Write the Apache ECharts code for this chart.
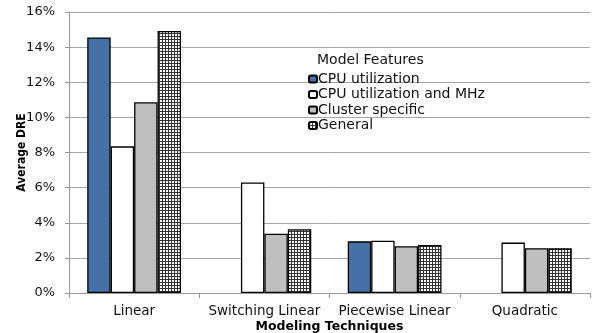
<!DOCTYPE html>
<html>
<head>
<meta charset="utf-8">
<script src="https://cdn.jsdelivr.net/npm/echarts@6/dist/echarts.min.js"></script>
<style>
  html, body { margin: 0; padding: 0; background: #fff; }
  #chart { width: 597px; height: 333px; }
</style>
</head>
<body>
<div id="chart"></div>
<script>
const categories = ["Linear", "Switching Linear", "Piecewise Linear", "Quadratic"];
const cpuUtil = [14.55, null, 2.94, null];
const cpuUtilMhz = [8.35, 6.29, 2.98, 2.87];
const clusterSpecific = [10.86, 3.38, 2.66, 2.55];
const general = [14.92, 3.63, 2.73, 2.55];
const yTicks = [0, 2, 4, 6, 8, 10, 12, 14, 16];

// crosshatch pattern for "General"
function hatch() {
  const c = document.createElement("canvas");
  c.width = 3; c.height = 3;
  const ctx = c.getContext("2d");
  ctx.fillStyle = "#ffffff";
  ctx.fillRect(0, 0, 3, 3);
  ctx.fillStyle = "#333333";
  ctx.fillRect(0, 0, 3, 1);
  ctx.fillRect(0, 0, 1, 3);
  return { image: c, repeat: "repeat" };
}

const chart = echarts.init(document.getElementById("chart"));
const border = { borderColor: "#000", borderWidth: 1.3 };

const mk = (name, data, color) => ({
  name,
  type: "bar",
  data,
  barGap: "0%",
  barCategoryGap: "28%",
  itemStyle: Object.assign({ color }, border),
  emphasis: { disabled: true },
});

chart.setOption({
  animation: false,
  textStyle: { fontFamily: "DejaVu Sans" },
  grid: { left: 69, right: 7, top: 12, bottom: 40, containLabel: false, outerBoundsMode: "none" },
  title: {
    text: "Model Features",
    left: 312, top: 48,
    textStyle: { fontSize: 14, fontWeight: "normal", color: "#111", fontFamily: "DejaVu Sans" },
  },
  legend: {
    orient: "vertical",
    left: 303, top: 67,
    itemWidth: 8, itemHeight: 7, itemGap: 1.5,
    textStyle: { fontSize: 14, color: "#111", fontFamily: "DejaVu Sans", padding: [0, 0, 0, -4] },
    data: ["CPU utilization", "CPU utilization and MHz", "Cluster specific", "General"],
  },
  xAxis: {
    type: "category",
    data: categories,
    name: "Modeling Techniques",
    nameLocation: "middle",
    nameGap: 27,
    nameMoveOverlap: false,
    nameTextStyle: { fontSize: 12.5, fontWeight: "bold", color: "#000", fontFamily: "DejaVu Sans" },
    axisLine: { lineStyle: { color: "#999" } },
    axisTick: { show: true, length: 5, lineStyle: { color: "#999" } },
    axisLabel: { color: "#111", fontSize: 13.5, margin: 11, interval: 0, hideOverlap: false },
  },
  yAxis: {
    type: "value",
    min: yTicks[0], max: yTicks[yTicks.length - 1], interval: 2,
    name: "Average DRE",
    nameLocation: "middle",
    nameGap: 41,
    nameMoveOverlap: false,
    nameTextStyle: { fontSize: 12, fontWeight: "bold", color: "#000", fontFamily: "DejaVu Sans Condensed" },
    axisLine: { show: true, lineStyle: { color: "#999" } },
    axisTick: { show: true, length: 4, inside: false, lineStyle: { color: "#999" } },
    axisLabel: { color: "#111", fontSize: 13, formatter: "{value}%", margin: 14 },
    splitLine: { lineStyle: { color: "#a6a6a6" } },
  },
  series: [
    mk("CPU utilization", cpuUtil, "#4471a7"),
    mk("CPU utilization and MHz", cpuUtilMhz, "#ffffff"),
    mk("Cluster specific", clusterSpecific, "#bfbfbf"),
    mk("General", general, hatch()),
  ],
});
</script>
</body>
</html>
